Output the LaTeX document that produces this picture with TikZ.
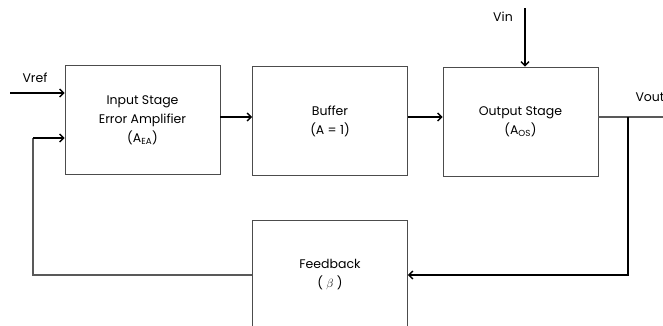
\documentclass[tikz,border=0pt]{standalone}
\usepackage{amsmath,amssymb}
\usepackage{fontspec}
\setmainfont{Poppins}
\usetikzlibrary{arrows,arrows.meta,positioning}

\begin{document}
\begin{tikzpicture}
	[x=1pt,y=-1pt,
	block/.style={draw=black!70,line width=0.9pt,minimum width=155pt,
		minimum height=109pt,align=center,font=\fontsize{12.5}{19}\selectfont},
	wire/.style={black,line width=1.3pt,-{Straight Barb[length=4pt,width=8pt,line width=1.3pt]}},
	line/.style={black!65,line width=1.3pt},
	lbl/.style={font=\fontsize{12.5}{14}\selectfont}]
	\useasboundingbox (0,0) rectangle (663,325);
	\clip (0,0) rectangle (663,325);
	%bloques
	\node[block] (ea) at (142.5,120) {Input Stage\\Error Amplifier\\(A\textsubscript{EA})};
	\node[block] (buf) at (330,121) {Buffer\\(A = 1)};
	\node[block] (os) at (520.5,121.5) {Output Stage\\(A\textsubscript{OS})};
	\node[block] (fb) at (330,275) {Feedback\\( {\large$\beta$} )};
	%puntos libres
	\coordinate (vref) at (10,93);
	\coordinate (fbin) at (33,138);
	\coordinate (vin) at (525,8);
	\coordinate (tap) at (628,117);
	\coordinate (out) at (663,117);
	%entradas y salidas
	\draw[wire] (vref) -- (vref -| ea.west);
	\node[lbl] (vreflbl) at (35,78) {Vref};
	\draw[wire] (vin) -- (vin |- os.north);
	\node[lbl] (vinlbl) at (503,17) {Vin};
	\node[lbl,anchor=west] (voutlbl) at (632,97) {Vout};
	%camino directo
	\draw[wire] ([yshift=3pt]ea.east) -- ([yshift=4pt]buf.west);
	\draw[wire] ([yshift=4pt]buf.east) -- ([yshift=4.5pt]os.west);
	\draw[line] ([yshift=4.5pt]os.east) -- (out);
	%realimentacion
	\draw[wire] (tap) |- (fb.east);
	\draw[line] (fb.west) -| (fbin);
	\draw[wire] (fbin) -- (fbin -| ea.west);
\end{tikzpicture}
\end{document}
